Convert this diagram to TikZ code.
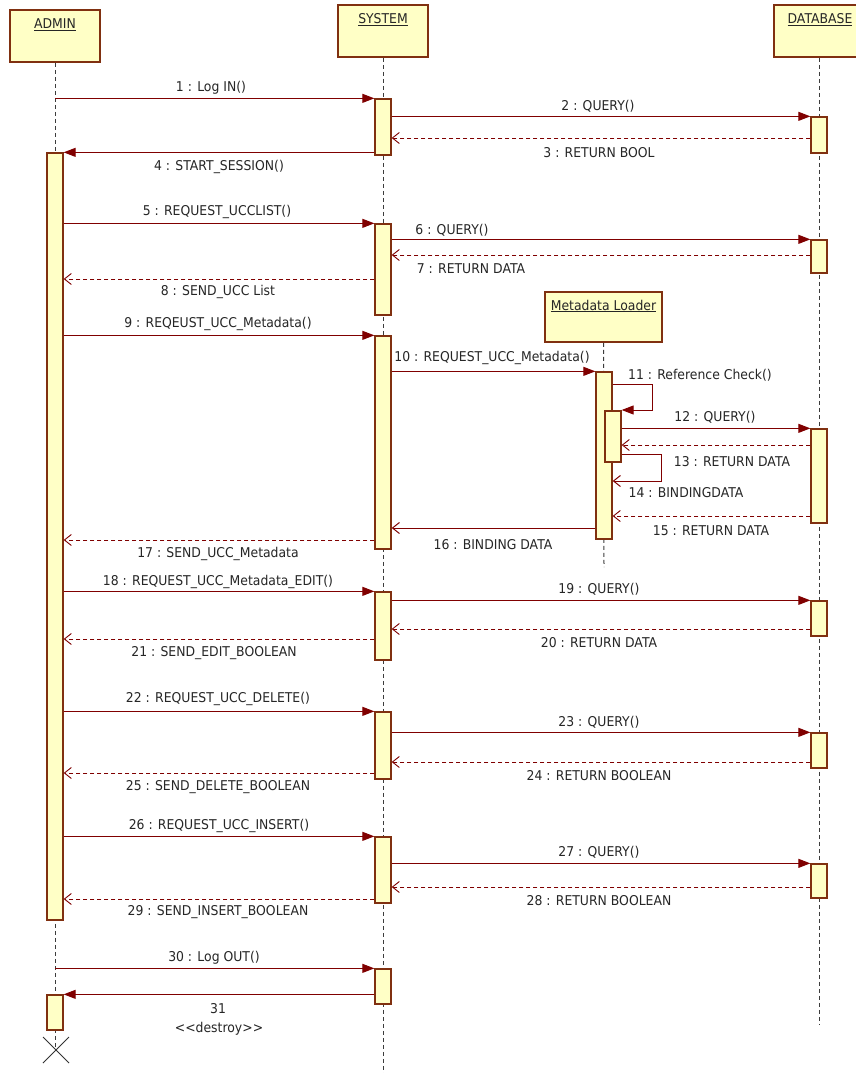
\documentclass[tikz,border=0pt]{standalone}
\usepackage{fontspec}
\setmainfont{DejaVu Sans}[FakeStretch=0.92]
\usetikzlibrary{arrows.meta}
\definecolor{objfill}{RGB}{255,255,198}
\definecolor{objdraw}{RGB}{128,48,16}
\definecolor{msgred}{RGB}{128,0,0}
\definecolor{lifegray}{RGB}{60,60,60}
\begin{document}
\begin{tikzpicture}[x=1pt,y=-1pt,
  obj/.style={draw=objdraw, fill=objfill, line width=1.8pt, rectangle, inner sep=0pt},
  act/.style={draw=objdraw, fill=objfill, line width=1.3pt, rectangle, minimum width=16pt, inner sep=0pt},
  life/.style={draw=lifegray, line width=1pt, dash pattern=on 4pt off 3pt},
  call/.style={draw=msgred, line width=1pt, -{Triangle[length=12pt,width=9pt]}},
  ret/.style={draw=msgred, line width=0.9pt, dash pattern=on 4pt off 3pt, -{Straight Barb[length=7pt,width=11pt]}},
  retsolid/.style={draw=msgred, line width=1pt, -{Straight Barb[length=7pt,width=11pt]}},
  lbl/.style={font=\fontsize{13.5}{15}\selectfont, text=black!85, inner sep=1pt},
  ]
\path[use as bounding box, fill=white] (0,0) rectangle (855,1073);

% objects
\node[obj, minimum width=90pt, minimum height=52pt] (admin) at (55,36) {};
\node[lbl] (adminT) at (55,25) {\underline{ADMIN}};
\node[obj, minimum width=90pt, minimum height=52pt] (sys) at (383,31) {};
\node[lbl] (sysT) at (383,20) {\underline{SYSTEM}};
\node[obj, minimum width=90pt, minimum height=52pt] (db) at (819,31) {};
\node[lbl] (dbT) at (820,20) {\underline{DATABASE}};
\node[obj, minimum width=117pt, minimum height=50pt] (meta) at (603.5,317) {};
\node[lbl] (metaT) at (603.5,306) {\underline{Metadata Loader}};

% lifelines
\coordinate (xmark) at (56,1050);
\coordinate (sysEnd) at (383,1073);
\coordinate (dbEnd) at (819,1025);
\coordinate (metaEnd) at (604,567);
\draw[life] (admin.south) -- (admin.south |- xmark);
\draw[life] (sys.south) -- (sysEnd);
\draw[life] (db.south) -- (dbEnd);
\draw[life] (meta.south) -- (metaEnd);

% activation bars
\node[act, minimum height=56pt] (s1) at (383,127) {};
\node[act, minimum height=36pt] (d1) at (819,135) {};
\node[act, minimum height=767pt] (a1) at (55,536.5) {};
\node[act, minimum height=91pt] (s2) at (383,269.5) {};
\node[act, minimum height=33pt] (d2) at (819,256.5) {};
\node[act, minimum height=213pt] (s3) at (383,442.5) {};
\node[act, minimum height=167pt] (m1) at (604,455.5) {};
\node[act, minimum height=51pt] (m2) at (613,436.5) {};
\node[act, minimum height=94pt] (d3) at (819,476) {};
\node[act, minimum height=68pt] (s4) at (383,626) {};
\node[act, minimum height=35pt] (d4) at (819,618.5) {};
\node[act, minimum height=67pt] (s5) at (383,745.5) {};
\node[act, minimum height=35pt] (d5) at (819,750.5) {};
\node[act, minimum height=66pt] (s6) at (383,870) {};
\node[act, minimum height=34pt] (d6) at (819,881) {};
\node[act, minimum height=35pt] (s7) at (383,986.5) {};
\node[act, minimum height=35pt] (a2) at (55,1012.5) {};

% destroy mark
\draw[draw=black!80, line width=0.9pt] (xmark) +(-13,-13) -- +(13,13) (xmark) +(-13,13) -- +(13,-13);

% messages
\draw[call] (admin.south |- s1.north) -- (s1.north west);
\draw[call] (s1.east |- d1.north) -- (d1.north west);
\draw[ret] (d1.west |- 0,138) -- (s1.east |- 0,138);
\draw[call] (s1.west |- a1.north) -- (a1.north east);
\draw[call] (a1.east |- s2.north) -- (s2.north west);
\draw[call] (s2.east |- d2.north) -- (d2.north west);
\draw[ret] (d2.west |- 0,255) -- (s2.east |- 0,255);
\draw[ret] (s2.west |- 0,279) -- (a1.east |- 0,279);
\draw[call] (a1.east |- s3.north) -- (s3.north west);
\draw[call] (s3.east |- m1.north) -- (m1.north west);
\draw[call] (m1.east |- 0,384) -- ++(40,0) |- (m2.east |- 0,410);
\draw[call] (m2.east |- d3.north) -- (d3.north west);
\draw[ret] (d3.west |- 0,445) -- (m2.east |- 0,445);
\draw[retsolid] (m2.east |- 0,454) -- ++(40,0) |- (m1.east |- 0,481);
\draw[ret] (d3.west |- 0,516) -- (m1.east |- 0,516);
\draw[retsolid] (m1.west |- 0,528) -- (s3.east |- 0,528);
\draw[ret] (s3.west |- 0,540) -- (a1.east |- 0,540);
\draw[call] (a1.east |- s4.north) -- (s4.north west);
\draw[call] (s4.east |- d4.north) -- (d4.north west);
\draw[ret] (d4.west |- 0,629) -- (s4.east |- 0,629);
\draw[ret] (s4.west |- 0,639) -- (a1.east |- 0,639);
\draw[call] (a1.east |- s5.north) -- (s5.north west);
\draw[call] (s5.east |- d5.north) -- (d5.north west);
\draw[ret] (d5.west |- 0,762) -- (s5.east |- 0,762);
\draw[ret] (s5.west |- 0,773) -- (a1.east |- 0,773);
\draw[call] (a1.east |- s6.north) -- (s6.north west);
\draw[call] (s6.east |- d6.north) -- (d6.north west);
\draw[ret] (d6.west |- 0,887) -- (s6.east |- 0,887);
\draw[ret] (s6.west |- 0,899) -- (a1.east |- 0,899);
\draw[call] (admin.south |- s7.north) -- (s7.north west);
\draw[call] (s7.west |- a2.north) -- (a2.north east);

% labels
\node[lbl] (l1) at (211,88) {1 : Log IN()};
\node[lbl] (l2) at (598,106) {2 : QUERY()};
\node[lbl] (l3) at (599,153) {3 : RETURN BOOL};
\node[lbl] (l4) at (219,167) {4 : START\_SESSION()};
\node[lbl] (l5) at (217,212) {5 : REQUEST\_UCCLIST()};
\node[lbl] (l6) at (452,230) {6 : QUERY()};
\node[lbl] (l7) at (471,269) {7 : RETURN DATA};
\node[lbl] (l8) at (218,292) {8 : SEND\_UCC List};
\node[lbl] (l9) at (218,324) {9 : REQEUST\_UCC\_Metadata()};
\node[lbl] (l10) at (492,358) {10 : REQUEST\_UCC\_Metadata()};
\node[lbl] (l11) at (700,375) {11 : Reference Check()};
\node[lbl] (l12) at (715,417) {12 : QUERY()};
\node[lbl] (l13) at (732,462) {13 : RETURN DATA};
\node[lbl] (l14) at (686,493) {14 : BINDINGDATA};
\node[lbl] (l15) at (711,531) {15 : RETURN DATA};
\node[lbl] (l16) at (493,545) {16 : BINDING DATA};
\node[lbl] (l17) at (218,554) {17 : SEND\_UCC\_Metadata};
\node[lbl] (l18) at (218,582) {18 : REQUEST\_UCC\_Metadata\_EDIT()};
\node[lbl] (l19) at (599,589) {19 : QUERY()};
\node[lbl] (l20) at (599,643) {20 : RETURN DATA};
\node[lbl] (l21) at (214,653) {21 : SEND\_EDIT\_BOOLEAN};
\node[lbl] (l22) at (218,699) {22 : REQUEST\_UCC\_DELETE()};
\node[lbl] (l23) at (599,722) {23 : QUERY()};
\node[lbl] (l24) at (599,776) {24 : RETURN BOOLEAN};
\node[lbl] (l25) at (218,787) {25 : SEND\_DELETE\_BOOLEAN};
\node[lbl] (l26) at (219,826) {26 : REQUEST\_UCC\_INSERT()};
\node[lbl] (l27) at (599,852) {27 : QUERY()};
\node[lbl] (l28) at (599,901) {28 : RETURN BOOLEAN};
\node[lbl] (l29) at (218,912) {29 : SEND\_INSERT\_BOOLEAN};
\node[lbl] (l30) at (214,958) {30 : Log OUT()};
\node[lbl] (l31) at (218,1009) {31};
\node[lbl] (l31b) at (219,1029) {{<}{<}destroy{>}{>}};
\end{tikzpicture}
\end{document}
